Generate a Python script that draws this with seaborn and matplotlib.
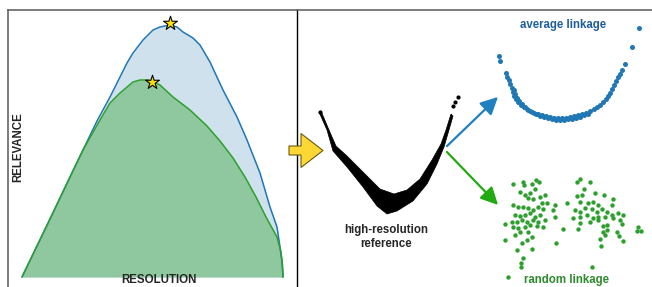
import matplotlib
matplotlib.use("Agg")
import matplotlib.pyplot as plt
from matplotlib.patches import FancyArrow
import seaborn as sns

# left panel: relevance vs resolution
avg_res = [0, 28, 48, 61, 75, 88, 98, 105, 111, 121, 131, 138, 143, 148, 155, 161,
           171, 178, 188, 201, 215, 225, 238, 248, 255, 258, 260, 261]
avg_rel = [0, 58, 100, 127, 156, 180, 200, 214, 224, 237, 247, 250, 251, 252, 250, 245,
           239, 232, 215, 187, 160, 137, 104, 70, 50, 30, 15, 0]
rnd_res = [0, 28, 48, 61, 78, 88, 98, 111, 118, 125, 130, 138, 151, 168, 185, 198,
           211, 223, 234, 244, 255, 259, 260.5, 261]
rnd_rel = [0, 58, 100, 127, 157, 174, 184, 195, 197, 197, 196, 192, 180, 167, 151, 136,
           119, 100, 80, 60, 40, 25, 12, 0]
best_res = [148, 130]
best_rel = [254, 195]

# right panel: embeddings (2-D coordinates as read)
ref_lower_x = [319, 327, 333, 347, 363, 377, 387, 397, 413, 427, 437, 444, 449, 453]
ref_lower_y = [112, 130, 151, 167, 187, 206, 214, 211, 201, 184, 164, 147, 130, 116]
ref_upper_x = [451, 446, 441, 432, 420, 407, 394, 380, 363, 347, 336, 329, 321]
ref_upper_y = [114, 130, 144, 160, 179, 190, 194, 189, 172, 156, 146, 130, 111]
ref_tip_x = [320, 453, 455, 458]
ref_tip_y = [112, 106, 102, 97]

avg_x = [499, 500, 506, 507, 509, 510, 620, 622, 625, 632, 639,
         512, 513, 514, 516, 518, 521, 524, 527, 530, 534, 538, 542, 546, 550, 554, 558,
         562, 566, 570, 574, 578, 582, 586, 590, 594, 597, 600, 603, 606, 608, 610, 612,
         614, 616, 618,
         514, 515, 517, 519, 522, 525, 528, 532, 536, 540, 544, 548, 552, 556, 560, 564,
         568, 572, 576, 580, 584, 588]
avg_y = [56, 61, 73, 77, 80, 84, 74, 70, 64, 47, 28,
         88, 92, 96, 99, 102, 105, 107, 109, 111, 113, 114, 115, 116, 117, 117.5, 118,
         118, 117.5, 117, 116, 115, 114, 112.5, 111, 109, 107, 105, 102, 99, 96, 93, 89,
         85, 81, 77,
         90, 94, 98, 101, 104, 107, 110, 112, 114, 116, 117, 118, 119, 119.5, 119.5, 119.5,
         119, 118.5, 117.5, 116.5, 115, 113.5]

rnd_x = [513, 523, 524, 532, 536, 539, 535, 520, 525, 530, 528, 533, 540, 545, 542, 547,
         555, 553, 555, 513, 518, 523, 528, 533, 538, 543, 515, 520, 525, 530, 535, 540,
         512, 517, 522, 527, 533, 538, 545, 513, 518, 525, 530, 537, 543, 505, 520, 528,
         532, 527, 522, 515, 505, 517, 532, 523, 521, 521, 508, 556, 563, 567,
         580, 577, 590, 584, 595, 577, 582, 604, 580, 588, 593, 598, 613, 612, 575, 580,
         585, 592, 597, 602, 607, 573, 580, 587, 593, 598, 605, 612, 618, 623, 580, 590,
         598, 603, 607, 613, 620, 578, 603, 607, 617, 622, 600, 605, 623, 619, 601, 637,
         641, 638, 592]
rnd_y = [184, 182, 185, 184, 180, 182, 189, 192, 195, 193, 198, 199, 197, 195, 203, 203,
         205, 210, 217, 205, 207, 207, 208, 210, 207, 209, 215, 216, 215, 213, 217, 215,
         222, 222, 220, 222, 220, 222, 220, 227, 228, 227, 225, 226, 227, 224, 232, 232,
         237, 240, 243, 235, 240, 250, 249, 258, 263, 267, 277, 243, 229, 203,
         179, 182, 182, 189, 193, 196, 195, 195, 202, 203, 202, 205, 199, 205, 210, 212,
         208, 209, 212, 209, 212, 218, 217, 215, 218, 217, 217, 215, 213, 215, 223, 222,
         220, 226, 225, 218, 220, 229, 232, 230, 232, 224, 239, 235, 241, 236, 246, 231,
         231, 227, 267]

BLUE = "#1f77b4"
GREEN = "#2ca02c"

sns.set_style("white")
plt.rcParams["font.family"] = ["Liberation Sans", "DejaVu Sans"]

fig = plt.figure(figsize=(6.52, 2.87), dpi=100)
ax1 = fig.add_axes([8 / 652, -13 / 287, 289 / 652, 290 / 287])
ax2 = fig.add_axes([297 / 652, -13 / 287, 355 / 652, 290 / 287])

# --- left panel ---
ax1.fill_between(avg_res, avg_rel, 0, color="#d0e1ee", lw=0)
ax1.fill_between(rnd_res, rnd_rel, 0, color="#8fc89e", lw=0)
sns.lineplot(x=avg_res, y=avg_rel, color=BLUE, lw=1.1, ax=ax1)
sns.lineplot(x=rnd_res, y=rnd_rel, color=GREEN, lw=1.1, ax=ax1)
sns.scatterplot(x=best_res, y=best_rel, marker="*", s=110, color="#ffe10a",
                edgecolor="black", linewidth=0.8, zorder=5, ax=ax1)
ax1.set_xlim(-14, 275)
ax1.set_ylim(-23, 267)
ax1.set_xticks([])
ax1.set_yticks([])
ax1.text(0.522, 0.058, "RESOLUTION", transform=ax1.transAxes, ha="center", va="baseline",
         fontsize=8.3, fontweight="bold")
ax1.text(0.035, 0.528, "RELEVANCE", transform=ax1.transAxes, ha="center", va="center",
         rotation=90, fontsize=8.3, fontweight="bold")
for side in ["left", "top"]:
    ax1.spines[side].set_color("#666666")
    ax1.spines[side].set_linewidth(1.2)
ax1.spines["right"].set_visible(False)
ax1.spines["bottom"].set_visible(False)

# --- right panel ---
ax2.set_xlim(297, 652)
ax2.set_ylim(300, 10)
ax2.set_xticks([])
ax2.set_yticks([])
ax2.patch.set_visible(False)
for side in ["right", "bottom"]:
    ax2.spines[side].set_visible(False)
ax2.spines["left"].set_color("black")
ax2.spines["left"].set_linewidth(1.0)
ax2.spines["top"].set_color("#666666")
ax2.spines["top"].set_linewidth(1.2)

ax2.fill(ref_lower_x + ref_upper_x, ref_lower_y + ref_upper_y, color="black", lw=0.5)
sns.scatterplot(x=ref_tip_x, y=ref_tip_y, color="black", s=9, linewidth=0, ax=ax2)
sns.scatterplot(x=avg_x, y=avg_y, color=BLUE, s=13, linewidth=0, ax=ax2)
sns.scatterplot(x=rnd_x, y=rnd_y, color=GREEN, s=10, linewidth=0, ax=ax2)

ax2.add_patch(FancyArrow(289, 150.5, 34, 0, width=9, head_width=34, head_length=22,
                         length_includes_head=True, fc="#fdd835", ec="#6b5a10",
                         lw=0.8, clip_on=False, zorder=6))
ax2.annotate("", xy=(500, 95), xytext=(445, 148),
             arrowprops=dict(arrowstyle="-|>,head_length=0.7,head_width=0.35",
                             color="#2080c0", lw=1.6, mutation_scale=15))
ax2.annotate("", xy=(500, 207), xytext=(445, 150),
             arrowprops=dict(arrowstyle="-|>,head_length=0.7,head_width=0.35",
                             color="#22aa11", lw=1.6, mutation_scale=15))

ax2.text(386, 237, "high-resolution\nreference", ha="center", va="center",
         fontsize=8.3, fontweight="bold", linespacing=1.15)
ax2.text(563, 25, "average linkage", ha="center", va="center", fontsize=8.3,
         fontweight="bold", color="#1f5f9c")
ax2.text(566, 280, "random linkage", ha="center", va="center", fontsize=8.3,
         fontweight="bold", color="#2e8b2e")

fig.savefig("out.png", dpi=100)
